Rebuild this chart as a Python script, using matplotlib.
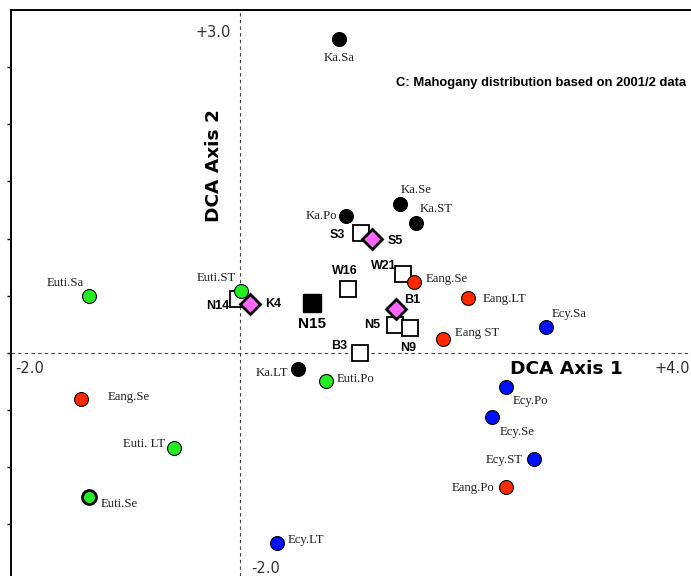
import matplotlib.pyplot as plt
import numpy as np

# species x river-section scores (DCA axis 1, axis 2)
sp_names = ["Ka.Sa", "Ka.Se", "Ka.ST", "Ka.Po", "Ka.LT",
            "Euti.ST", "Euti.Sa", "Euti.Po", "Euti. LT", "Euti.Se",
            "Eang.Se", "Eang.LT", "Eang ST", "Eang.Se", "Eang.Po",
            "Ecy.Sa", "Ecy.Po", "Ecy.Se", "Ecy.ST", "Ecy.LT"]
sp_x = [0.87, 1.40, 1.54, 0.93, 0.51,
        0.01, -1.32, 0.76, -0.57, -1.32,
        1.53, 2.00, 1.78, -1.39, 2.33,
        2.68, 2.33, 2.21, 2.58, 0.33]
sp_y = [2.75, 1.30, 1.14, 1.20, -0.14,
        0.54, 0.50, -0.25, -0.83, -1.26,
        0.62, 0.48, 0.12, -0.40, -1.17,
        0.23, -0.30, -0.56, -0.93, -1.66]
sp_group = ["Ka"] * 5 + ["Euti"] * 5 + ["Eang"] * 5 + ["Ecy"] * 5

# sample sites
site_names = ["S3", "W16", "W21", "N14", "N5", "N9", "B3"]
site_x = [1.06, 0.95, 1.43, -0.01, 1.36, 1.49, 1.05]
site_y = [1.05, 0.56, 0.69, 0.47, 0.24, 0.22, 0.00]

diamond_names = ["S5", "K4", "B1"]
diamond_x = [1.16, 0.09, 1.37]
diamond_y = [1.00, 0.43, 0.38]

n15_x, n15_y = 0.63, 0.44

colors = {"Ka": "black", "Euti": "#22ee22", "Eang": "#ff2a00", "Ecy": "#0010ff"}

# label offsets in pixels (dx, dy, ha)
sp_offsets = [(0, -19, "center"), (17, 14, "center"), (21, 14, "center"),
              (-9, 0, "right"), (-10, -4, "right"),
              (-5, 13, "right"), (-5, 13, "right"), (10, 2, "left"),
              (-9, 4, "right"), (12, -7, "left"),
              (11, 3, "left"), (14, -1, "left"), (12, 6, "left"),
              (27, 2, "left"), (-11, -1, "right"),
              (6, 13, "left"), (7, -14, "left"), (7, -15, "left"),
              (-12, -1, "right"), (10, 3, "left")]
site_offsets = [(-16, -2, "right"), (-3, 18, "center"), (-6, 8, "right"),
                (-9, -7, "right"), (-15, 0, "right"), (-2, -20, "center"),
                (-12, 7, "right")]
diamond_offsets = [(15, -2, "left"), (15, 0, "left"), (8, 9, "left")]

W, H = 691, 576
scale = 114.3
fig = plt.figure(figsize=(W / 100, H / 100), dpi=100)
ax = fig.add_axes([11 / W, 0, 680 / W, 566 / H])
ax.set_xlim(-2.0, -2.0 + 680 / scale)
ax.set_ylim(3.0 - 566 / scale, 3.0)

for s in ["right", "bottom"]:
    ax.spines[s].set_visible(False)
ax.spines["left"].set_linewidth(1.4)
ax.spines["top"].set_linewidth(1.4)
ax.set_xticks([])
ax.set_yticks(np.arange(-1.5, 2.6, 0.5))
ax.set_yticklabels([])
ax.tick_params(axis="y", direction="out", length=3, width=1)

ax.axhline(0, color="#444444", lw=0.8, ls=(0, (3, 3)), zorder=1)
ax.axvline(0, color="#444444", lw=0.8, ls=(0, (3, 3)), zorder=1)

label_font = dict(family="Liberation Serif", fontsize=9.2, color="#222222")
bold_font = dict(family="Liberation Sans", fontsize=9, fontweight="bold")

# open squares for sites
ax.plot(site_x, site_y, "s", ms=11.5, mfc="white", mec="black", mew=1.3,
        ls="none", zorder=2)
for name, x, y, (dx, dy, ha) in zip(site_names, site_x, site_y, site_offsets):
    ax.annotate(name, (x, y), xytext=(dx, dy), textcoords="offset pixels",
                ha=ha, va="center", zorder=5, **bold_font)

# species circles
for name, x, y, g, (dx, dy, ha) in zip(sp_names, sp_x, sp_y, sp_group, sp_offsets):
    edge_w = 2.0 if name == "Euti.Se" else 0.8
    ax.plot(x, y, "o", ms=10, mfc=colors[g], mec="black", mew=edge_w, zorder=3)
    ax.annotate(name, (x, y), xytext=(dx, dy), textcoords="offset pixels",
                ha=ha, va="center", zorder=5, **label_font)

# diamonds
ax.plot(diamond_x, diamond_y, "D", ms=10, mfc="#ff66ff", mec="black", mew=2,
        ls="none", zorder=4)
for name, x, y, (dx, dy, ha) in zip(diamond_names, diamond_x, diamond_y, diamond_offsets):
    ax.annotate(name, (x, y), xytext=(dx, dy), textcoords="offset pixels",
                ha=ha, va="center", zorder=5, **bold_font)

# filled site N15
ax.plot(n15_x, n15_y, "s", ms=13, mfc="black", mec="black", zorder=4)
ax.annotate("N15", (n15_x, n15_y), xytext=(0, -21), textcoords="offset pixels",
            ha="center", va="center", family="Liberation Sans", fontsize=11,
            fontweight="bold")

# axis extent labels
ext = dict(family="DejaVu Sans", fontsize=10.5, color="#333333")
ax.text(-0.08, 2.8, "+3.0", ha="right", va="center", **ext)
ax.text(-1.96, -0.14, "-2.0", ha="left", va="center", **ext)
ax.text(3.94, -0.14, "+4.0", ha="right", va="center", **ext)
ax.text(0.1, -1.89, "-2.0", ha="left", va="center", **ext)

ax.text(2.86, -0.14, "DCA Axis 1", ha="center", va="center",
        family="DejaVu Sans", fontsize=13.3, fontweight="bold")
ax.text(-0.22, 1.64, "DCA Axis 2", ha="center", va="center", rotation=90,
        family="DejaVu Sans", fontsize=13.3, fontweight="bold")

ax.text(3.91, 2.36, "C: Mahogany distribution based on 2001/2 data",
        ha="right", va="center", family="Liberation Sans", fontsize=9.4,
        fontweight="bold")

fig.savefig("out.png", dpi=100)
